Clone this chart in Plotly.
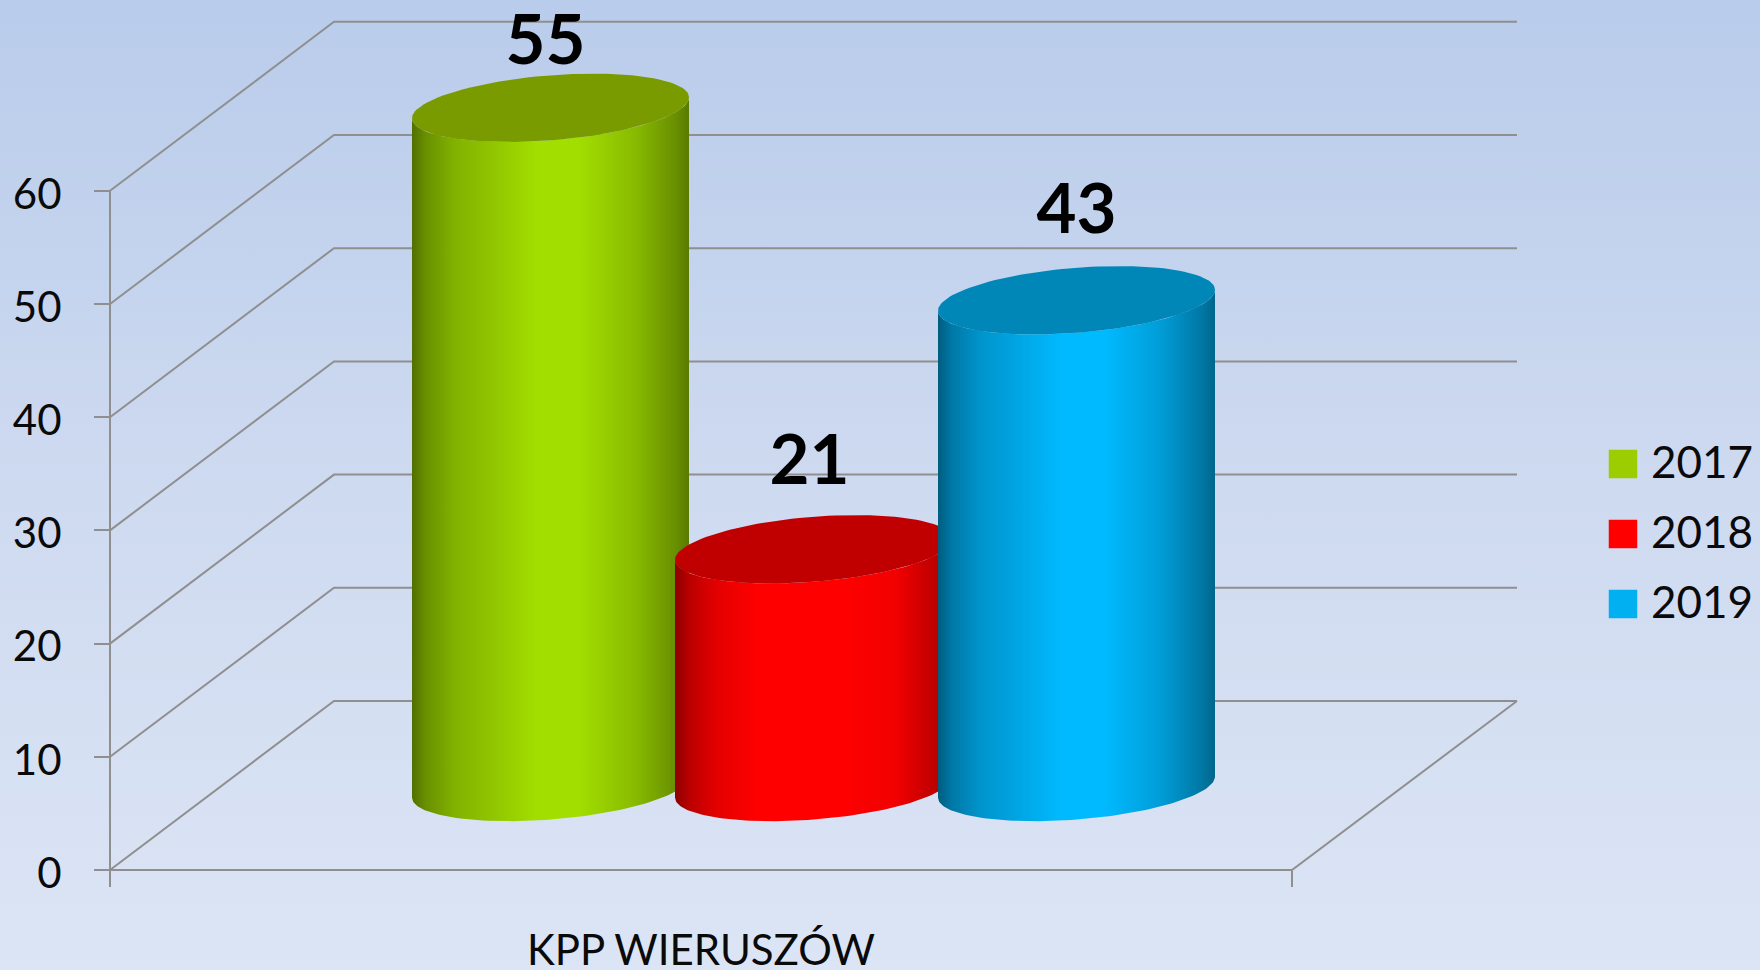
import numpy as np
import plotly.graph_objects as go

# ---- data ----
series_names = ["2017", "2018", "2019"]
drawn_heights = [60, 21, 43]      # height of each cylinder measured on the axis
data_labels = ["55", "21", "43"]  # the labels printed above the cylinders
category_label = "KPP WIERUSZÓW"
tick_values = [0, 10, 20, 30, 40, 50, 60]

# ---- style / layout ----
W, H = 1760, 970
PX_PER_UNIT = 11.32
Y0_PX = 870
y_bottom = (Y0_PX - H) / PX_PER_UNIT
y_top = Y0_PX / PX_PER_UNIT
GRID = "#8f8f8f"
FONT = "Lato"
INK = "#0a0a0a"

WALL_X, FRONT_END_X, BACK_START_X, BACK_END_X = 110, 1292, 334, 1517
DEPTH = 169 / PX_PER_UNIT

BAR_CX = [550.5, 813.5, 1076.5]
BAR_A = 138.5
BAR_B = 32.5 / PX_PER_UNIT
BAR_P = 10.5 / PX_PER_UNIT
BAR_BASE = 83 / PX_PER_UNIT
bright = [(162, 222, 0), (285, 0, 0), (0, 186, 255)]
top_col = ["#7a9b00", "#c00000", "#0087b8"]
swatch = ["#9bcd00", "#ff0000", "#00b0f0"]
label_dx = [-5, -4, 0]
label_dy_px = [61, 83, 84]
shade = [(0, .5), (.05, .65), (.15, .8), (.3, .9), (.45, 1), (.6, 1), (.8, .85), (.95, .65), (1, .55)]

fig = go.Figure()


def line(xs, ys, width=2):
    fig.add_trace(go.Scatter(x=xs, y=ys, mode="lines", line=dict(color=GRID, width=width),
                             showlegend=False, hoverinfo="skip"))


# background gradient
fig.add_trace(go.Scatter(
    x=[0, W, W, 0, 0], y=[y_bottom, y_bottom, y_top, y_top, y_bottom],
    mode="lines", line=dict(width=0), fill="toself", showlegend=False, hoverinfo="skip",
    fillgradient=dict(type="vertical",
                      colorscale=[[0, "#dce5f5"], [0.5, "#cedaf0"], [1, "#b9cceb"]])))

# walls and floor
for v in tick_values:
    line([WALL_X, BACK_START_X, BACK_END_X], [v, v + DEPTH, v + DEPTH])
line([WALL_X, WALL_X], [0, 60])
line([WALL_X, FRONT_END_X, BACK_END_X], [0, 0, DEPTH])

# cylinders
for cx, h, col, tc, name in zip(BAR_CX, drawn_heights, bright, top_col, series_names):
    t = np.linspace(np.pi, 2 * np.pi, 81)   # lower (front) half of the ellipse
    xf = cx + BAR_A * np.cos(t)
    dyf = BAR_P * np.cos(t) + BAR_B * np.sin(t)
    xb = np.concatenate([xf, xf[::-1]])
    yb = np.concatenate([BAR_BASE + dyf, (BAR_BASE + h + dyf)[::-1]])
    scale = [[s, "rgb({},{},{})".format(*[min(255, int(c * k)) for c in col])] for s, k in shade]
    fig.add_trace(go.Scatter(x=xb, y=yb, mode="lines", line=dict(width=0), fill="toself",
                             fillgradient=dict(type="horizontal", colorscale=scale),
                             name=name, showlegend=False, hoverinfo="skip"))
    ta = np.linspace(0, 2 * np.pi, 121)
    fig.add_trace(go.Scatter(x=cx + BAR_A * np.cos(ta),
                             y=BAR_BASE + h + BAR_P * np.cos(ta) + BAR_B * np.sin(ta),
                             mode="lines", line=dict(width=0), fill="toself", fillcolor=tc,
                             showlegend=False, hoverinfo="skip"))

# data labels
fig.add_trace(go.Scatter(
    x=[c + d for c, d in zip(BAR_CX, label_dx)],
    y=[BAR_BASE + h + d / PX_PER_UNIT for h, d in zip(drawn_heights, label_dy_px)],
    mode="text", text=data_labels, textposition="middle center", cliponaxis=False,
    textfont=dict(family=FONT, size=69, color="#000000", weight="bold"),
    showlegend=False, hoverinfo="skip"))

# legend
LEG_X, LEG_TEXT_X = 1623, 1651
LEG_TOP, LEG_STEP = (870 - 464) / PX_PER_UNIT, 70 / PX_PER_UNIT
LEG_TEXT_DROP = 2.5 / PX_PER_UNIT
for i, (n, c) in enumerate(zip(series_names, swatch)):
    yy = LEG_TOP - i * LEG_STEP
    fig.add_trace(go.Scatter(
        x=[LEG_X], y=[yy], mode="markers",
        marker=dict(symbol="square", size=28.5, color=c, line=dict(width=0)),
        name=n, showlegend=False, hoverinfo="skip"))
    fig.add_trace(go.Scatter(
        x=[LEG_TEXT_X], y=[yy - LEG_TEXT_DROP], mode="text", text=[n],
        textposition="middle right",
        textfont=dict(family=FONT, size=44, color=INK),
        showlegend=False, hoverinfo="skip"))

fig.update_layout(
    width=W, height=H, margin=dict(l=0, r=0, t=0, b=0), paper_bgcolor="#dce5f5",
    plot_bgcolor="rgba(0,0,0,0)", showlegend=False,
    xaxis=dict(range=[0, W], showgrid=False, zeroline=False, showline=False,
               anchor="free", position=(H - Y0_PX) / H,
               tickmode="array", tickvals=[WALL_X, FRONT_END_X], ticktext=["", ""],
               ticks="outside", ticklen=16, tickwidth=2, tickcolor=GRID),
    yaxis=dict(range=[y_bottom, y_top], showgrid=False, zeroline=False, showline=False,
               anchor="free", position=WALL_X / W, side="left",
               tickmode="array", tickvals=tick_values, ticks="outside", ticklen=16,
               tickwidth=2, tickcolor=GRID, ticklabelstandoff=24, ticklabelshift=3,
               tickfont=dict(family=FONT, size=42, color=INK)),
    annotations=[dict(x=701, y=(Y0_PX - 949) / PX_PER_UNIT, xref="x", yref="y", text=category_label,
                      showarrow=False, font=dict(family=FONT, size=42, color=INK),
                      xanchor="center", yanchor="middle")],
)

fig.write_html("out.html", post_script="document.body.style.margin='0';",
               config={"displayModeBar": False})
